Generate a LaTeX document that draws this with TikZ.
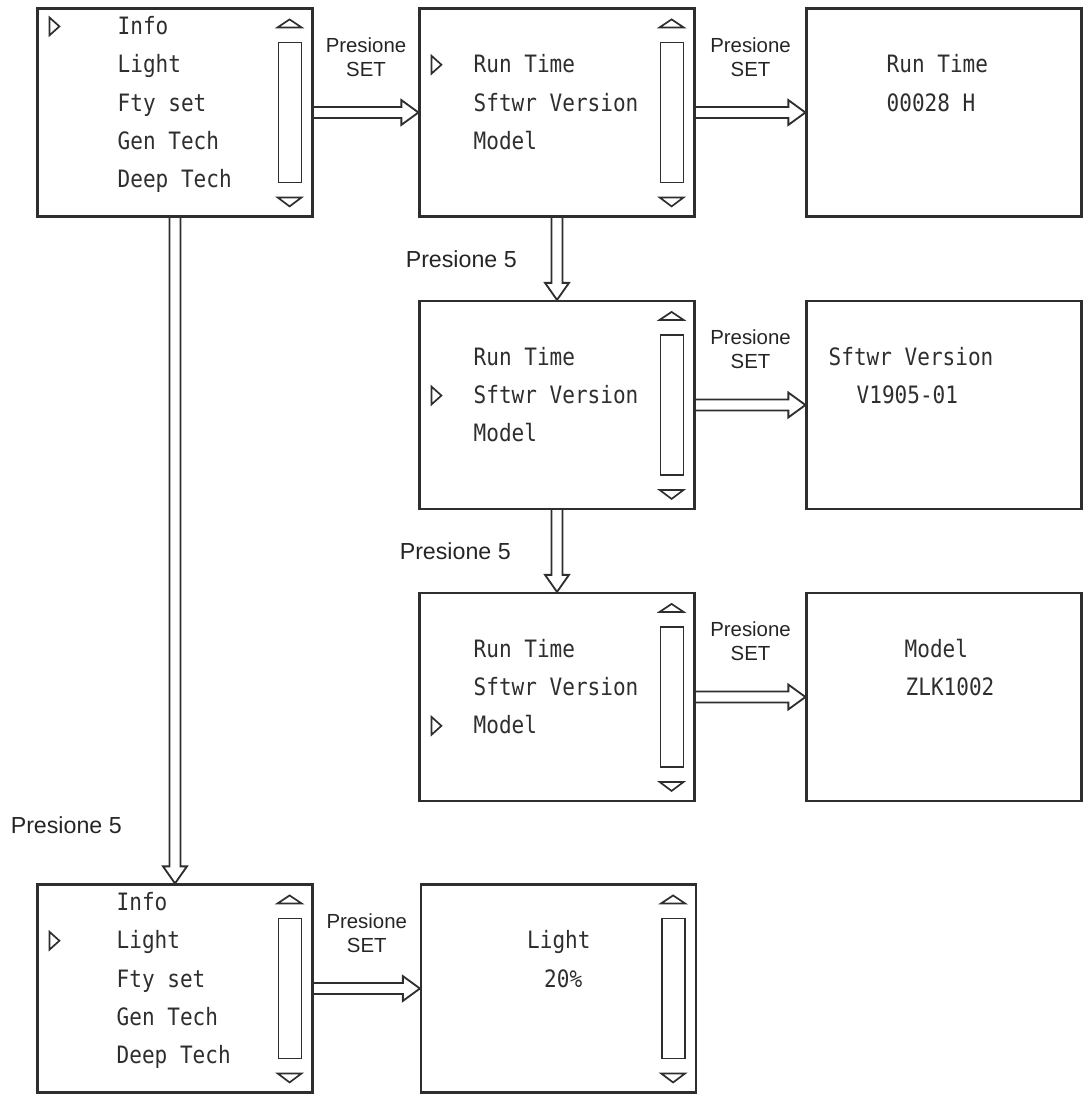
\documentclass[tikz,border=0pt]{standalone}
\usepackage{fontspec}
\setmainfont{Liberation Sans}
\newfontfamily\lcd[FakeStretch=0.88]{DejaVu Sans Mono}
\usetikzlibrary{calc,positioning}
\definecolor{ink}{HTML}{2E2E2E}

% hollow push arrows
\newcommand\pushR[2]{\draw[flow] let \p1=(#1), \p2=(#2) in
  (\x1,\y1+3.9pt) -- (\x2-12.1pt,\y1+3.9pt) -- (\x2-12.1pt,\y1+8.8pt) -- (\x2,\y1)
  -- (\x2-12.1pt,\y1-8.8pt) -- (\x2-12.1pt,\y1-3.9pt) -- (\x1,\y1-3.9pt);}
\newcommand\pushD[2]{\draw[flow] let \p1=(#1), \p2=(#2) in
  (\x1-3.9pt,\y1) -- (\x1-3.9pt,\y2+12.1pt) -- (\x1-8.5pt,\y2+12.1pt) -- (\x1,\y2)
  -- (\x1+8.5pt,\y2+12.1pt) -- (\x1+3.9pt,\y2+12.1pt) -- (\x1+3.9pt,\y1);}
% cursor and scroll bar
\newcommand\cursor[2]{\draw[curs] ([shift={(13,{10+38.3*(#2-1)})}]#1.north west) -- ++(10,9) -- ++(-10,9) -- cycle;}
\newcommand\scrollbar[1]{%
  \draw[curs] ([shift={(-36,20)}]#1.north east) -- ++(12,-8) -- ++(12,8) -- cycle;
  \draw[curs] ([shift={(-35,35)}]#1.north east) rectangle ++(23,140);
  \draw[curs] ([shift={(-36,190)}]#1.north east) -- ++(12,9) -- ++(12,-9) -- cycle;}

\begin{document}
\begin{tikzpicture}[x=0.025cm, y=-0.025cm,
    screen/.style={draw=ink, line width=1.5pt, minimum width=6.875cm, minimum height=5.2cm, inner sep=0pt},
    lcdtext/.style={anchor=base west, inner sep=0pt, text=ink, font=\lcd\fontsize{17}{17}\selectfont},
    setlab/.style={align=center, inner sep=0pt, text=ink!80!black, font=\fontsize{14.5}{17}\selectfont},
    fivelab/.style={inner sep=0pt, text=ink!80!black, font=\fontsize{16.5}{18}\selectfont},
    flow/.style={draw=ink, line width=1.3pt},
    curs/.style={draw=ink, line width=1.2pt}]
  \useasboundingbox (0,0) rectangle (1084,1096);

  % pantallas
  \node[screen] (b1) at (175,112.5) {};
  \node[screen] (b2) at (557,112.5) {};
  \node[screen] (b3) at (944,112.5) {};
  \node[screen] (b4) at (557,405) {};
  \node[screen] (b5) at (944,405) {};
  \node[screen] (b6) at (557,697) {};
  \node[screen] (b7) at (944,697) {};
  \node[screen] (b8) at (175,988.5) {};
  \node[screen] (b9) at (558.5,988.5) {};

  % menu principal
  \foreach \t [count=\i] in {Info,Light,Fty set,Gen Tech,Deep Tech}{
    \node[lcdtext] (b1-\i) at ([shift={(81,{27+38.3*(\i-1)})}]b1.north west) {\t};
    \node[lcdtext] (b8-\i) at ([shift={(80,{27+38.3*(\i-1)})}]b8.north west) {\t};
  }
  \cursor{b1}{1} \scrollbar{b1}
  \cursor{b8}{2} \scrollbar{b8}

  % menu info
  \foreach \b/\r in {b2/2,b4/3,b6/4}{
    \foreach \t [count=\i from 2] in {Run Time,Sftwr Version,Model}
      \node[lcdtext] (\b-\i) at ([shift={(55,{27+38.3*(\i-1)})}]\b.north west) {\t};
    \cursor{\b}{\r} \scrollbar{\b}
  }

  % valores
  \node[lcdtext] (b3-2) at ([shift={(81,65.3)}]b3.north west) {Run Time};
  \node[lcdtext] (b3-3) at ([shift={(81,103.6)}]b3.north west) {00028 H};
  \node[lcdtext] (b5-2) at ([shift={(23,65.3)}]b5.north west) {Sftwr Version};
  \node[lcdtext] (b5-3) at ([shift={(51,103.6)}]b5.north west) {V1905-01};
  \node[lcdtext] (b7-2) at ([shift={(99,65.3)}]b7.north west) {Model};
  \node[lcdtext] (b7-3) at ([shift={(100,103.6)}]b7.north west) {ZLK1002};
  \node[lcdtext] (b9-2) at ([shift={(107,65.3)}]b9.north west) {Light};
  \node[lcdtext] (b9-3) at ([shift={(124,103.6)}]b9.north west) {20\%};
  \scrollbar{b9}

  % flechas
  \pushR{b1.east}{b2.west}
  \pushR{b2.east}{b3.west}
  \pushR{b4.east}{b5.west}
  \pushR{b6.east}{b7.west}
  \pushR{b8.east}{b9.west}
  \pushD{b2.south}{b4.north}
  \pushD{b4.south}{b6.north}
  \pushD{b1.south}{b8.north}

  % etiquetas
  \foreach \a/\c in {b1/b2,b2/b3,b4/b5,b6/b7,b8/b9}
    \path (\a.east) -- (\c.west) node[midway, above=0.9cm, setlab] (s-\a) {Presione\\SET};
  \path (b2.south) -- (b4.north) node[midway, left=1.0cm, fivelab] (p5a) {Presione 5};
  \path (b4.south) -- (b6.north) node[midway, left=1.15cm, fivelab] (p5b) {Presione 5};
  \node[fivelab, anchor=east] (p5c) at ([shift={(-53,-58)}]b8.north) {Presione 5};
\end{tikzpicture}
\end{document}
